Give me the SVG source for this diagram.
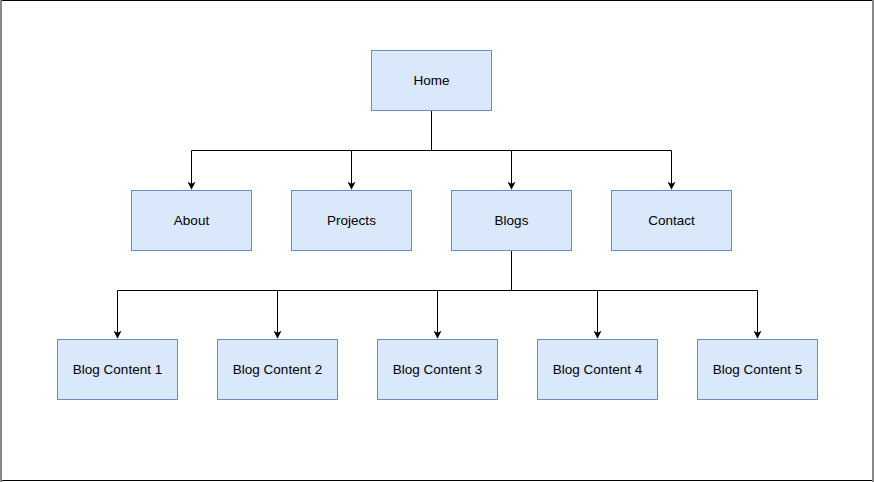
<svg xmlns="http://www.w3.org/2000/svg" width="874" height="482" viewBox="0 0 874 482">
<defs>
<style>
.n rect{fill:#dae8fc;stroke:#6c8ebf;stroke-width:1}
.n text{font-family:"Liberation Sans",Arial,Helvetica,sans-serif;font-size:13.5px;fill:#000;text-anchor:middle;dominant-baseline:central}
.c path{fill:none;stroke:#000;stroke-width:1;marker-end:url(#a)}
</style>
<marker id="a" viewBox="0 0 10 10" refX="9" refY="5" markerWidth="8" markerHeight="8" markerUnits="userSpaceOnUse" orient="auto">
<path d="M0,0 L10,5 L0,10 L2.5,5 Z" fill="#000"/>
</marker>
</defs>
<rect x="0" y="0" width="874" height="482" fill="#fff"/>
<line x1="0" y1="0.5" x2="874" y2="0.5" stroke="#000" stroke-width="1"/>
<line x1="0" y1="480.5" x2="874" y2="480.5" stroke="#000" stroke-width="1"/>
<line x1="1" y1="0" x2="1" y2="482" stroke="#888" stroke-width="2"/>
<line x1="873" y1="0" x2="873" y2="482" stroke="#888" stroke-width="2"/>
<g class="c" id="connectors">
<path d="M431.5,110 V150.5 H191.5 V189"/>
<path d="M431.5,150.5 H351.5 V189"/>
<path d="M431.5,150.5 H511.5 V189"/>
<path d="M431.5,150.5 H671.5 V189"/>
<path d="M511.5,250 V290.5 H117.5 V338"/>
<path d="M511.5,290.5 H277.5 V338"/>
<path d="M511.5,290.5 H437.5 V338"/>
<path d="M511.5,290.5 H597.5 V338"/>
<path d="M511.5,290.5 H757.5 V338"/>
</g>
<g class="n" id="home"><rect x="371.5" y="50.5" width="120" height="60"/><text x="431.5" y="80.5">Home</text></g>
<g class="n" id="about"><rect x="131.5" y="190.5" width="120" height="60"/><text x="191.5" y="220.5">About</text></g>
<g class="n" id="projects"><rect x="291.5" y="190.5" width="120" height="60"/><text x="351.5" y="220.5">Projects</text></g>
<g class="n" id="blogs"><rect x="451.5" y="190.5" width="120" height="60"/><text x="511.5" y="220.5">Blogs</text></g>
<g class="n" id="contact"><rect x="611.5" y="190.5" width="120" height="60"/><text x="671.5" y="220.5">Contact</text></g>
<g class="n" id="blog1"><rect x="57.5" y="339.5" width="120" height="60"/><text x="117.5" y="369.5">Blog Content 1</text></g>
<g class="n" id="blog2"><rect x="217.5" y="339.5" width="120" height="60"/><text x="277.5" y="369.5">Blog Content 2</text></g>
<g class="n" id="blog3"><rect x="377.5" y="339.5" width="120" height="60"/><text x="437.5" y="369.5">Blog Content 3</text></g>
<g class="n" id="blog4"><rect x="537.5" y="339.5" width="120" height="60"/><text x="597.5" y="369.5">Blog Content 4</text></g>
<g class="n" id="blog5"><rect x="697.5" y="339.5" width="120" height="60"/><text x="757.5" y="369.5">Blog Content 5</text></g>
</svg>
